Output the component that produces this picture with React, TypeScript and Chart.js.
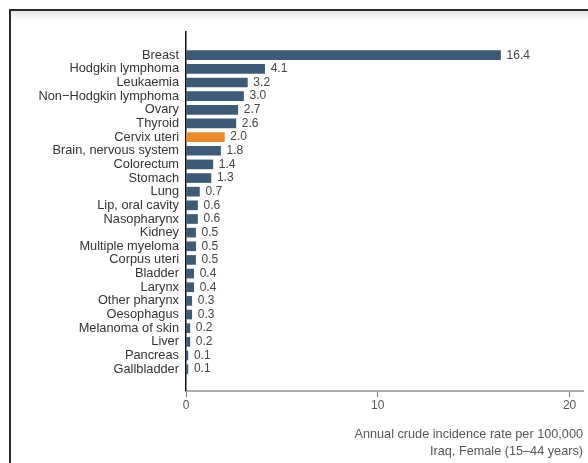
import React, { useEffect, useRef } from "react";
import { Chart, registerables } from "chart.js";

Chart.register(...registerables);

const categories = [
  "Breast",
  "Hodgkin lymphoma",
  "Leukaemia",
  "Non\u2212Hodgkin lymphoma",
  "Ovary",
  "Thyroid",
  "Cervix uteri",
  "Brain, nervous system",
  "Colorectum",
  "Stomach",
  "Lung",
  "Lip, oral cavity",
  "Nasopharynx",
  "Kidney",
  "Multiple myeloma",
  "Corpus uteri",
  "Bladder",
  "Larynx",
  "Other pharynx",
  "Oesophagus",
  "Melanoma of skin",
  "Liver",
  "Pancreas",
  "Gallbladder",
];

const rates = [16.4, 4.1, 3.2, 3.0, 2.7, 2.6, 2.0, 1.8, 1.4, 1.3, 0.7, 0.6, 0.6, 0.5, 0.5, 0.5, 0.4, 0.4, 0.3, 0.3, 0.2, 0.2, 0.1, 0.1];

const highlighted = "Cervix uteri";
const xTicks = [0, 10, 20];
const axisTitle = ["Annual crude incidence rate per 100,000", "Iraq, Female (15\u201344 years)"];

const BLUE = "#3d5a77";
const ORANGE = "#eb8a2c";
const FONT = "'Liberation Sans', Arial, sans-serif";

const valueLabels = {
  id: "valueLabels",
  afterDatasetsDraw(chart: any) {
    const ctx = chart.ctx;
    const meta = chart.getDatasetMeta(0);
    ctx.save();
    ctx.font = `12px ${FONT}`;
    ctx.fillStyle = "#444";
    ctx.textAlign = "left";
    ctx.textBaseline = "middle";
    meta.data.forEach((el: any, i: number) => {
      ctx.fillText(rates[i].toFixed(1), el.x + 6, el.y);
    });
    ctx.restore();
  },
};

export default function App() {
  const ref = useRef<HTMLCanvasElement | null>(null);

  useEffect(() => {
    if (!ref.current) return;
    const chart = new Chart(ref.current, {
      type: "bar",
      data: {
        datasets: [
          {
            data: rates.map((v, i) => ({ x: v, y: i })) as any,
            backgroundColor: categories.map((c) => (c === highlighted ? ORANGE : BLUE)),
            barThickness: 9,
            borderWidth: 0,
          },
        ],
      },
      options: {
        animation: false,
        responsive: true,
        maintainAspectRatio: false,
        indexAxis: "y",
        layout: { padding: { top: 32, right: 5, left: 0, bottom: 0 } },
        plugins: {
          legend: { display: false },
          tooltip: { enabled: false },
          title: {
            display: true,
            position: "bottom",
            align: "end",
            text: axisTitle,
            color: "#555",
            font: { family: FONT, size: 12.7, weight: "normal" as any, lineHeight: 1.34 },
            padding: { top: 5, bottom: 3 },
          },
        },
        scales: {
          x: {
            type: "linear",
            min: 0,
            max: 20.7,
            offset: false,
            afterBuildTicks: (axis: any) => {
              axis.ticks = xTicks.map((v) => ({ value: v }));
            },
            afterFit: (axis: any) => {
              axis.height = 30;
            },
            grid: {
              display: true,
              drawOnChartArea: false,
              drawTicks: true,
              tickLength: 6,
              color: "#777",
            },
            border: { display: true, color: "#aaa", width: 2 },
            ticks: {
              color: "#555",
              font: { family: FONT, size: 12 },
              padding: 2,
              maxRotation: 0,
            },
          },
          y: {
            type: "linear",
            reverse: true,
            offset: false,
            bounds: "data",
            min: -1.7,
            max: 24.6,
            afterBuildTicks: (axis: any) => {
              axis.ticks = categories.map((_, i) => ({ value: i }));
            },
            afterFit: (axis: any) => {
              axis.width = 186;
            },
            grid: { display: false, drawTicks: false, offset: false },
            border: { display: true, color: "#111", width: 1.5 },
            ticks: {
              autoSkip: false,
              color: "#333",
              font: { family: FONT, size: 12.8 },
              padding: 7,
              callback: (v: any) => categories[v as number] ?? "",
            },
          },
        },
      },
      plugins: [valueLabels],
    });
    return () => chart.destroy();
  }, []);

  return (
    <div style={{ position: "fixed", left: 0, top: 0, width: 588, height: 463, background: "#fff" }}>
      <div
        style={{
          position: "absolute",
          left: 9,
          top: 9,
          right: 0,
          bottom: 0,
          borderTop: "2px solid #2a2a2a",
          borderLeft: "2px solid #2a2a2a",
          background: "linear-gradient(to bottom, #e6e6e6 0px, #ffffff 10px, #ffffff 100%)",
        }}
      />
      <canvas ref={ref} style={{ position: "absolute", left: 0, top: 0, width: 588, height: 463 }} />
    </div>
  );
}
